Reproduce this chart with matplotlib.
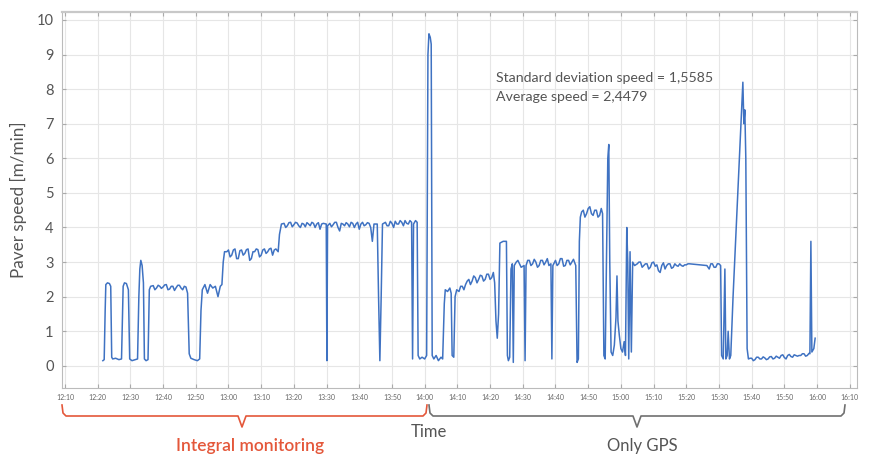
import matplotlib
matplotlib.use("Agg")
import matplotlib.pyplot as plt

# minutes after 12:00
time_min = [
    21.6, 22.0, 22.3, 22.5, 23.0, 23.6, 24.0, 24.3, 24.6, 25.5, 26.5, 27.3, 27.8, 28.2, 28.8, 29.4, 29.8,
    30.5, 31.5, 32.2, 32.6, 32.9, 33.2, 33.6, 34.0, 34.3, 34.8, 35.4, 35.8, 36.2,
    37, 37.5, 38, 38.5, 39, 39.5, 40, 40.5, 41, 41.5, 42, 42.5, 43, 43.5, 44, 44.5, 45, 45.5, 46, 46.5, 47, 47.5,
    48.0, 48.5, 49.5, 50.5, 51.2, 51.6, 52.0, 52.8, 53.6, 54.4, 55.2, 56.0, 56.8, 57.5, 58.0, 58.4, 58.8,
    59.5, 60, 60.5, 61, 61.5, 62, 62.5, 63, 63.5, 64, 64.5, 65, 65.5, 66, 66.5, 67, 67.5, 68, 68.5, 69, 69.5,
    70, 70.5, 71, 71.5, 72, 72.5, 73, 73.5, 74, 74.5, 75.2, 75.6, 76.2,
    77, 77.5, 78, 78.5, 79, 79.5, 80, 80.5, 81, 81.5, 82, 82.5, 83, 83.5, 84, 84.5, 85, 85.5, 86, 86.5, 87,
    87.5, 88, 88.5, 89, 89.9, 90.1, 90.3, 91, 91.5, 92, 92.5, 93, 93.5, 94, 94.5, 95, 95.5, 96, 96.5, 97, 97.5,
    98, 98.5, 99, 99.5, 100, 100.5, 101, 101.5, 102, 102.5, 103, 103.5, 104, 104.5, 105.5, 105.9, 106.3, 106.7,
    107.1, 108, 108.5, 109, 109.5, 110, 110.5, 111, 111.5, 112, 112.5, 113, 113.5, 114, 114.5, 115, 115.5,
    116.0, 116.3, 116.6, 117.2, 117.7, 118.0, 118.5, 119.2, 120.0, 120.6, 121.0, 121.3, 121.7, 122.0, 122.3,
    122.8, 123.5, 124.2, 125.0, 125.5, 126.0, 126.3, 127.0, 127.7, 128.1, 128.4, 128.9, 129.3, 129.8, 130.5,
    131.0, 131.5, 132.0, 132.5, 133.0, 133.5, 134.0, 134.5, 135.0, 135.5, 136.0, 136.5, 137.0, 137.5, 138.0,
    138.5, 139.0, 139.5, 140.0, 140.5, 141.0, 141.4, 141.8, 142.2, 142.6, 143.0, 144.0, 145.0, 145.3, 145.6,
    146.0, 146.4, 146.8, 147.1, 147.4, 148.0, 148.5, 149.0, 149.5, 150.4, 150.7, 151.0, 151.5, 152.0, 152.5,
    153.0, 153.5, 154.0, 154.5, 155.0, 155.5, 156.0, 156.5, 157.0, 157.5, 158.0, 158.6, 158.9, 159.2, 160.0,
    160.5, 161.0, 161.5, 162.0, 162.5, 163.0, 163.5, 164.0, 164.5, 165.0, 165.5, 166.2, 166.6, 167.0, 167.3,
    167.6, 168.0, 168.5, 169.0, 169.5, 170.0, 170.5, 171.0, 171.5, 172.0, 172.5, 173.0, 173.5, 174.0, 174.4,
    174.8, 175.2, 175.6, 176.0, 176.3, 176.6, 177.0, 177.5, 178.0, 178.5, 178.8, 179.1, 179.5, 180.0, 180.5,
    181.0, 181.4, 181.8, 182.1, 182.4, 182.8, 183.2, 183.6, 184.2, 185, 185.5, 186, 186.5, 187, 187.5, 188,
    188.5, 189, 189.5, 190, 190.5, 191, 191.5, 192, 192.5, 193, 193.5, 194, 194.5, 195, 195.5, 196, 196.5,
    197, 197.5, 198, 198.5, 199, 199.5, 200, 200.5, 201, 206.3, 207, 207.5, 208, 208.5, 209, 209.5, 210,
    210.5, 210.8, 211.3, 211.8, 212.1, 212.5, 212.8, 213.2, 213.6, 214.3, 217.3, 217.6, 217.9, 218.2, 218.6,
    219.0, 219.5, 220, 220.5, 221, 221.5, 222, 222.5, 223, 223.5, 224, 224.5, 225, 225.5, 226, 226.5, 227,
    227.5, 228, 228.5, 229, 229.5, 230, 230.5, 231, 231.5, 232, 232.5, 233, 233.5, 234, 234.5, 235, 235.5,
    236, 236.5, 237, 237.5, 237.8, 238.1, 238.4, 239.0, 239.4,
]
speed = [
    0.15, 0.18, 1.6, 2.35, 2.4, 2.38, 2.3, 0.25, 0.2, 0.22, 0.18, 0.2, 2.3, 2.4, 2.38, 2.2, 0.2,
    0.15, 0.18, 0.2, 2.0, 2.8, 3.05, 2.9, 2.4, 0.2, 0.15, 0.18, 2.2, 2.3,
    2.32, 2.2, 2.25, 2.33, 2.3, 2.24, 2.28, 2.34, 2.35, 2.2, 2.22, 2.3, 2.3, 2.18, 2.26, 2.33, 2.33, 2.25, 2.2, 2.3, 2.28, 2.1,
    0.35, 0.22, 0.18, 0.15, 0.2, 1.6, 2.2, 2.35, 2.1, 2.35, 2.25, 2.3, 2.0, 2.3, 2.35, 3.0, 3.3,
    3.3, 3.35, 3.15, 3.2, 3.35, 3.38, 3.1, 3.1, 3.33, 3.35, 3.2, 3.25, 3.36, 3.38, 3.05, 3.1, 3.3, 3.3, 3.38, 3.36, 3.15,
    3.2, 3.35, 3.38, 3.25, 3.3, 3.38, 3.4, 3.2, 3.35, 3.38, 3.3, 3.8, 4.1,
    4.12, 4.0, 4.05, 4.14, 4.15, 4.02, 4.08, 4.15, 4.13, 4.05, 4.0, 4.12, 4.1, 4.02, 4.14, 4.1, 4.05, 4.15, 4.12, 4.0, 4.1,
    4.14, 3.95, 4.1, 4.12, 4.1, 0.15, 4.05, 4.12, 4.02, 4.08, 4.15, 4.15, 4.0, 3.9, 4.12, 4.1, 4.05, 4.14, 4.1, 4.02, 4.15,
    4.12, 4.0, 4.1, 4.15, 3.95, 4.1, 4.15, 4.05, 4.08, 4.14, 4.12, 4.0, 3.6, 4.1, 4.1, 2.0, 0.15, 2.0,
    4.1, 4.15, 4.05, 4.05, 4.18, 4.12, 4.0, 4.18, 4.1, 4.1, 4.2, 4.15, 4.05, 4.2, 4.12, 4.1, 4.2,
    4.15, 0.2, 4.1, 4.2, 4.15, 0.3, 0.2, 0.25, 0.2, 0.3, 9.0, 9.6, 9.5, 9.3, 0.3,
    0.2, 0.3, 0.15, 0.25, 0.2, 1.8, 2.2, 2.15, 2.25, 2.1, 0.3, 0.25, 2.0, 2.2, 2.15,
    2.3, 2.3, 2.2, 2.35, 2.45, 2.5, 2.35, 2.45, 2.6, 2.55, 2.4, 2.5, 2.62, 2.6, 2.45,
    2.5, 2.65, 2.65, 2.5, 2.55, 2.7, 2.4, 1.3, 0.8, 1.5, 3.55, 3.6, 3.6, 0.3, 0.15,
    0.25, 2.8, 2.95, 0.1, 2.9, 3.0, 3.05, 2.95, 2.85, 2.9, 0.15, 2.9, 3.05, 3.05, 2.9,
    2.95, 3.08, 3.0, 2.85, 2.9, 3.05, 3.05, 2.92, 3.0, 3.1, 2.9, 2.95, 0.2, 2.9, 3.05,
    2.9, 2.95, 3.1, 3.1, 2.88, 2.9, 3.05, 3.05, 2.92, 3.0, 3.08, 2.9, 0.1, 0.2, 3.6,
    4.3, 4.45, 4.5, 4.3, 4.4, 4.55, 4.6, 4.4, 4.35, 4.5, 4.5, 4.3, 4.35, 4.55, 4.4,
    0.3, 0.2, 3.0, 6.0, 6.4, 3.0, 0.4, 0.3, 0.6, 1.4, 2.6, 1.3, 0.9, 0.5, 0.4,
    0.7, 0.3, 4.0, 3.0, 0.2, 3.3, 0.4, 3.0, 2.9, 2.95, 3.0, 3.0, 2.85, 2.9, 2.95, 2.95,
    2.8, 2.85, 2.98, 3.0, 2.88, 2.92, 2.75, 2.7, 2.9, 2.98, 2.8, 2.9, 2.95, 2.95, 2.82, 2.85, 2.95,
    2.9, 2.88, 2.95, 2.9, 2.88, 2.92, 2.92, 2.95, 2.95, 2.9, 2.8, 2.95, 2.95, 2.85, 2.85, 2.95, 2.95,
    2.9, 0.3, 0.2, 2.8, 0.2, 0.3, 1.0, 0.2, 0.3, 2.0, 8.2, 7.0, 7.4, 6.0, 0.5,
    0.2, 0.22, 0.22, 0.15, 0.18, 0.25, 0.25, 0.2, 0.2, 0.26, 0.23, 0.18, 0.2, 0.26, 0.27, 0.2, 0.22,
    0.28, 0.25, 0.22, 0.3, 0.32, 0.24, 0.2, 0.3, 0.33, 0.27, 0.25, 0.32, 0.3, 0.28, 0.3, 0.3, 0.35,
    0.35, 0.28, 0.3, 0.36, 0.35, 3.6, 0.4, 0.5, 0.8,
]

tick_minutes = list(range(10, 251, 10))
tick_labels = ["12:10", "12:20", "12:30", "12:40", "12:50", "13:00", "13:10", "13:20",
               "13:30", "13:40", "13:50", "14:00", "14:10", "14:20", "14:30", "14:40",
               "14:50", "15:00", "15:10", "15:20", "15:30", "15:40", "15:50", "16:00", "16:10"]
y_ticks = list(range(0, 11))

plt.rcParams['font.family'] = ['Lato', 'DejaVu Sans']

W, H = 872, 459
fig = plt.figure(figsize=(W / 100, H / 100), dpi=100)
ax = fig.add_axes([62 / W, 1 - 388 / H, (857 - 62) / W, (388 - 12) / H])

ax.plot(time_min, speed, color="#3f72c2", linewidth=1.1)

ax.set_xlim(9.1, 252.2)
ax.set_ylim(-0.64, 10.23)
ax.set_xticks(tick_minutes)
ax.set_xticklabels(tick_labels, fontsize=5, color="#666666")
ax.set_yticks(y_ticks)
ax.set_yticklabels([str(v) for v in y_ticks], fontsize=10.5, color="#555555")
ax.tick_params(axis="both", direction="in", length=3, color="#aaaaaa",
               top=True, right=True)
ax.tick_params(axis="x", pad=4)
ax.tick_params(axis="y", pad=6)
ax.grid(True, color="#e6e6e6", linewidth=0.8)
ax.set_axisbelow(True)
for s in ax.spines.values():
    s.set_color("#bbbbbb")
    s.set_linewidth(0.8)
ax.spines["top"].set_linewidth(1.6)
ax.spines["top"].set_color("#c8c8c8")

ax.set_ylabel("Paver speed [m/min]", fontsize=12.3, color="#555555", labelpad=7)

ax.text(0.5465, 0.815, "Standard deviation speed = 1,5585", transform=ax.transAxes,
        fontsize=10.2, color="#555555")
ax.text(0.5465, 0.762, "Average speed = 2,4479", transform=ax.transAxes,
        fontsize=10.2, color="#555555")

# overlay for brackets (pixel coordinates)
ov = fig.add_axes([0, 0, 1, 1])
ov.set_xlim(0, W)
ov.set_ylim(H, 0)
ov.axis("off")

def bracket(x0, x1, xt, color):
    yb, yt, ytip = 416, 405, 427
    r = 4
    xs = [x0, x0 + 1, x0 + r, xt - 4, xt, xt + 4, x1 - r, x1 - 1, x1]
    ys = [yt, yb - 3, yb, yb, ytip, yb, yb, yb - 3, yt]
    ov.plot(xs, ys, color=color, linewidth=1.2, solid_joinstyle="round")

red = "#e4573a"
gray = "#707070"
bracket(62, 427, 242, red)
bracket(429, 845, 637, gray)
ov.text(250, 446, "Integral monitoring", color=red, fontsize=12.5, ha="center", va="center",
        fontweight="semibold")
ov.text(429, 432, "Time", color="#555555", fontsize=12, ha="center", va="center")
ov.text(642, 446, "Only GPS", color="#555555", fontsize=12, ha="center", va="center")

fig.savefig("out.png", dpi=100)
